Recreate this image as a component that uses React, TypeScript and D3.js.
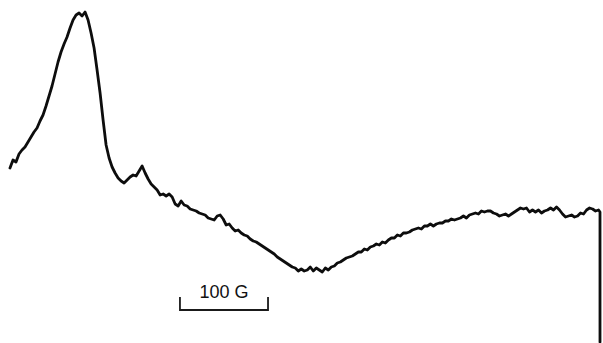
import React from 'react';
import * as d3 from 'd3';

// EPR derivative trace. Field in G from start of sweep,
// signal in arbitrary units.
const SWEEP_START = 0;
const SWEEP_STEP = 3.41; // G per sample
const signal: number[] = [
  102, 110, 108, 116, 120, 123, 128, 133, 138, 142, 149, 155, 164, 174, 184, 196, 208, 218, 226, 233,
  242, 250, 255, 257, 254, 258, 250, 237, 222, 200, 177, 150, 125, 112, 103, 97, 92, 89, 87, 90,
  93, 95, 94, 99, 104, 97, 91, 86, 83, 80, 75, 76, 74, 76, 73, 66, 64, 69, 65, 64,
  61, 60, 59, 57, 56, 55, 52, 51, 50, 54, 55, 51, 45, 46, 42, 39, 40, 37, 35, 34,
  31, 29, 28, 26, 24, 22, 20, 18, 16, 13, 11, 9, 7, 5, 3, 2, -1, 1, -1, 0,
  3, -1, 2, 0, -2, 2, 0, 3, 4, 7, 8, 10, 12, 13, 14, 16, 18, 18, 21, 20,
  23, 24, 26, 25, 28, 27, 30, 32, 32, 35, 34, 37, 37, 38, 40, 41, 42, 41, 44, 44,
  46, 44, 46, 47, 47, 49, 49, 51, 50, 51, 52, 54, 52, 55, 56, 57, 56, 59, 58, 59,
  59, 57, 56, 54, 55, 56, 54, 56, 58, 60, 62, 61, 62, 58, 60, 58, 60, 57, 59, 60,
  62, 60, 63, 60, 56, 53, 54, 55, 53, 54, 57, 56, 60, 62, 61, 59, 60,
];

// pen return at the end of the sweep
const END_FIELD = 670;
const penReturn: number[] = [58, 10, -30, -72];

// 100 G scale marker
const markerFrom = 193;
const markerTo = 293;
const markerLabel = '100 G';

const W = 603;
const H = 343;

const App: React.FC = () => {
  const x = d3.scaleLinear().domain([0, END_FIELD]).range([10, 600]);
  const y = d3.scaleLinear().domain([0, 258]).range([270, 12]);

  const pts: [number, number][] = signal.map((s, i) => [SWEEP_START + i * SWEEP_STEP, s]);
  const tail: [number, number][] = penReturn.map((s) => [END_FIELD, s]);

  const line = d3
    .line<[number, number]>()
    .x((d) => x(d[0]))
    .y((d) => y(d[1]));

  const barY = y(-40);
  const tickTop = y(-27);

  return (
    <svg
      width={W}
      height={H}
      style={{ position: 'absolute', left: 0, top: 0, background: '#fff' }}
    >
      <path
        d={line(pts.concat(tail)) || ''}
        fill="none"
        stroke="#0d0d0d"
        strokeWidth={2.8}
        strokeLinejoin="round"
        strokeLinecap="round"
      />
      {/* scale marker */}
      <path
        d={`M${x(markerFrom)},${tickTop}V${barY}H${x(markerTo)}V${tickTop}`}
        fill="none"
        stroke="#1a1a1a"
        strokeWidth={1.8}
      />
      <text
        x={(x(markerFrom) + x(markerTo)) / 2}
        y={y(-28)}
        textAnchor="middle"
        fontFamily="Liberation Sans, Arial, sans-serif"
        fontSize={18}
        fill="#111"
      >
        {markerLabel}
      </text>
    </svg>
  );
};

export default App;
